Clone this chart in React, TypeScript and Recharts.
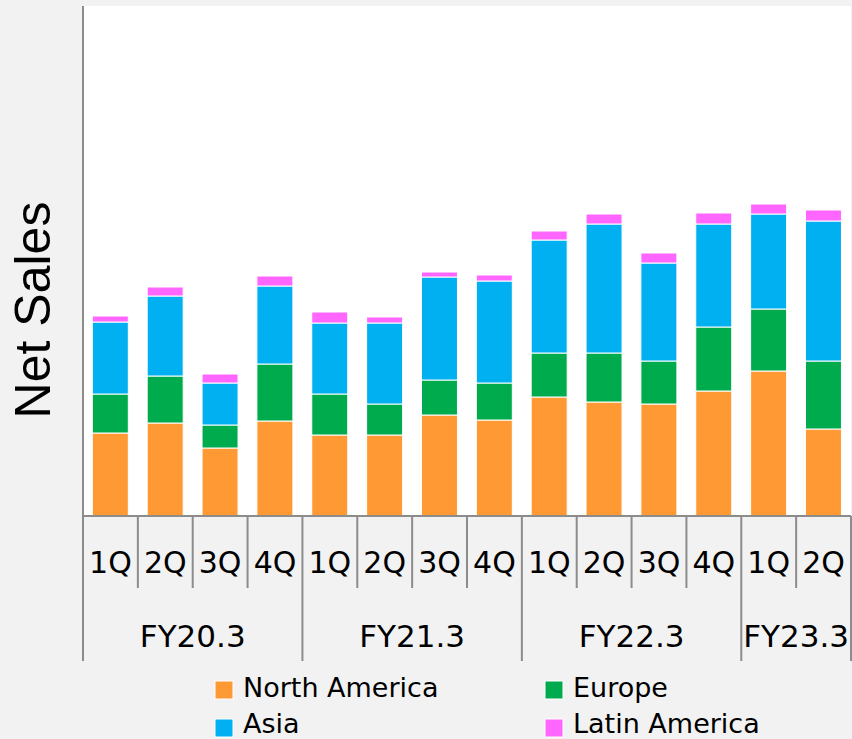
import React from 'react';
import { BarChart, Bar, XAxis, YAxis, CartesianGrid, Label, ReferenceLine } from 'recharts';

// quarter and fiscal-year labels (two-level category axis)
const fiscalYears = ['FY20.3', 'FY21.3', 'FY22.3', 'FY23.3'];
const quartersPerYear = [4, 4, 4, 2];
const quarterLabels = ['1Q', '2Q', '3Q', '4Q', '1Q', '2Q', '3Q', '4Q', '1Q', '2Q', '3Q', '4Q', '1Q', '2Q'];

// net sales by region (relative units)
const northAmerica = [83, 93, 68, 95, 81, 81, 101, 96, 119, 114, 112, 125, 145, 87];
const europe = [39, 47, 23, 57, 41, 31, 35, 37, 44, 49, 43, 64, 62, 68];
const asia = [72, 80, 42, 78, 71, 81, 103, 102, 113, 129, 98, 103, 95, 140];
const latinAmerica = [6, 9, 9, 10, 11, 6, 5, 6, 9, 10, 10, 11, 10, 11];

const series = [
  { key: 'northAmerica', name: 'North America', color: '#ff9933', values: northAmerica },
  { key: 'europe', name: 'Europe', color: '#00ab4e', values: europe },
  { key: 'asia', name: 'Asia', color: '#00b0f0', values: asia },
  { key: 'latinAmerica', name: 'Latin America', color: '#ff66ff', values: latinAmerica },
];

// which fiscal year each quarter belongs to
const yearIndex: number[] = [];
quartersPerYear.forEach((n, i) => {
  for (let k = 0; k < n; k++) yearIndex.push(i);
});

const data = quarterLabels.map((q, i) => {
  const row: Record<string, string | number> = { quarter: q, fy: fiscalYears[yearIndex[i]] };
  series.forEach((s) => {
    row[s.key] = s.values[i];
  });
  return row;
});

const W = 852;
const H = 739;
const PLOT_LEFT = 83;
const PLOT_RIGHT = 851;
const PLOT_TOP = 6;
const PLOT_BOTTOM = 516;
const Q_AXIS_H = 72;
const FY_AXIS_H = 73;
const BAND = (PLOT_RIGHT - PLOT_LEFT) / data.length;
const AXIS_GRAY = '#8c8c8c';
const FONT = "'DejaVu Sans', Verdana, sans-serif";

const isYearStart = (i: number) => i === 0 || yearIndex[i] !== yearIndex[i - 1];

const QuarterTick = (props: any) => {
  const { x, index, payload } = props;
  const left = x - BAND / 2;
  return (
    <g>
      {!isYearStart(index) && (
        <line x1={left} x2={left} y1={PLOT_BOTTOM} y2={PLOT_BOTTOM + Q_AXIS_H} stroke={AXIS_GRAY} strokeWidth={2} />
      )}
      <text x={x} y={PLOT_BOTTOM + 57} textAnchor="middle" fontFamily={FONT} fontSize={30} fill="#000">
        {payload.value}
      </text>
    </g>
  );
};

const YearTick = (props: any) => {
  const { x, index } = props;
  const left = x - BAND / 2;
  const yi = yearIndex[index];
  const bottom = PLOT_BOTTOM + Q_AXIS_H + FY_AXIS_H;
  return (
    <g>
      {isYearStart(index) && (
        <>
          <line x1={left} x2={left} y1={PLOT_BOTTOM} y2={bottom} stroke={AXIS_GRAY} strokeWidth={2} />
          <text
            x={left + (quartersPerYear[yi] * BAND) / 2}
            y={PLOT_BOTTOM + 131}
            textAnchor="middle"
            fontFamily={FONT}
            fontSize={31}
            fill="#000"
          >
            {fiscalYears[yi]}
          </text>
        </>
      )}
      {index === data.length - 1 && (
        <line x1={left + BAND} x2={left + BAND} y1={PLOT_BOTTOM} y2={bottom} stroke={AXIS_GRAY} strokeWidth={2} />
      )}
    </g>
  );
};

const legendCols = [215, 545];
const legendRows = [681, 719];
const legendBaselines = [697, 733];

export default function App() {
  return (
    <div style={{ position: 'absolute', left: 0, top: 0, width: W, height: H, background: '#f2f2f2' }}>
      <BarChart
        width={W}
        height={H}
        data={data}
        barCategoryGap="17%"
        margin={{ top: PLOT_TOP, right: W - PLOT_RIGHT, left: 0, bottom: H - PLOT_BOTTOM - Q_AXIS_H - FY_AXIS_H }}
      >
        <CartesianGrid horizontal={false} vertical={false} fill="#ffffff" stroke="none" />
        <YAxis
          width={PLOT_LEFT}
          domain={[0, 510]}
          tick={false}
          tickLine={false}
          axisLine={{ stroke: AXIS_GRAY, strokeWidth: 2 }}
        >
          <Label
            content={() => (
              <text
                x={50}
                y={310}
                transform="rotate(-90, 50, 310)"
                textAnchor="middle"
                fontFamily="'Liberation Sans', Arial, sans-serif"
                fontSize={50}
                fill="#000"
              >
                Net Sales
              </text>
            )}
          />
        </YAxis>
        <XAxis
          xAxisId="q"
          dataKey="quarter"
          height={Q_AXIS_H}
          interval={0}
          tickLine={false}
          axisLine={false}
          tick={(p: any) => <QuarterTick {...p} />}
        />
        <XAxis
          xAxisId="fy"
          dataKey="quarter"
          height={FY_AXIS_H}
          interval={0}
          tickLine={false}
          axisLine={false}
          tick={(p: any) => <YearTick {...p} />}
        />
        {series.map((s) => (
          <Bar
            key={s.key}
            dataKey={s.key}
            name={s.name}
            xAxisId="q"
            stackId="sales"
            fill={s.color}
            stroke="#ffffff"
            strokeWidth={1}
            isAnimationActive={false}
          />
        ))}
        <ReferenceLine xAxisId="q" y={0} stroke={AXIS_GRAY} strokeWidth={2} />
      </BarChart>
      <svg width={W} height={H} style={{ position: 'absolute', left: 0, top: 0, pointerEvents: 'none' }}>
        {series.map((s, i) => {
          const x = legendCols[i % 2];
          const row = Math.floor(i / 2);
          return (
            <g key={s.key}>
              <rect x={x} y={legendRows[row]} width={18} height={18} fill={s.color} stroke="#ffffff" strokeWidth={1} />
              <text x={x + 28} y={legendBaselines[row]} fontFamily={FONT} fontSize={27} fill="#000">
                {s.name}
              </text>
            </g>
          );
        })}
      </svg>
    </div>
  );
}
